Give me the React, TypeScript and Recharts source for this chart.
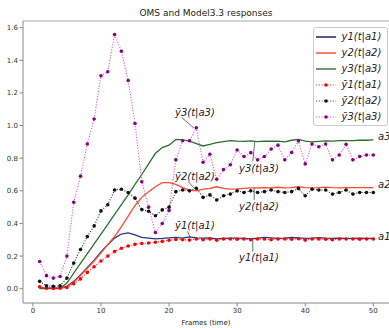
import React from 'react';
import { ComposedChart, Line, XAxis, YAxis, ReferenceLine, ReferenceDot, Legend } from 'recharts';

const frames = Array.from({ length: 50 }, (_, i) => i + 1);

const y1Model = [0.005, 0.003, 0.003, 0.005, 0.015, 0.045, 0.085, 0.13, 0.175, 0.225, 0.27, 0.31, 0.335, 0.342, 0.33, 0.315, 0.31, 0.305, 0.308, 0.312, 0.315, 0.31, 0.318, 0.312, 0.31, 0.312, 0.305, 0.308, 0.31, 0.31, 0.308, 0.306, 0.31, 0.315, 0.312, 0.308, 0.31, 0.314, 0.312, 0.308, 0.31, 0.313, 0.31, 0.308, 0.31, 0.309, 0.308, 0.31, 0.308, 0.308];
const y2Model = [0, 0, 0, 0, 0.012, 0.04, 0.08, 0.125, 0.17, 0.22, 0.27, 0.32, 0.38, 0.445, 0.51, 0.56, 0.595, 0.625, 0.65, 0.65, 0.64, 0.62, 0.605, 0.6, 0.61, 0.615, 0.625, 0.615, 0.61, 0.612, 0.615, 0.618, 0.618, 0.62, 0.618, 0.622, 0.618, 0.62, 0.625, 0.62, 0.618, 0.62, 0.623, 0.62, 0.618, 0.62, 0.62, 0.62, 0.62, 0.62];
const y3Model = [0.002, 0.002, 0.002, 0.002, 0.035, 0.095, 0.155, 0.215, 0.275, 0.335, 0.395, 0.455, 0.515, 0.575, 0.64, 0.7, 0.765, 0.83, 0.865, 0.88, 0.915, 0.912, 0.905, 0.89, 0.875, 0.885, 0.895, 0.902, 0.908, 0.905, 0.903, 0.906, 0.902, 0.905, 0.904, 0.905, 0.9, 0.91, 0.915, 0.905, 0.9, 0.903, 0.906, 0.905, 0.908, 0.908, 0.908, 0.91, 0.91, 0.912];
const y1Oms = [0.012, 0.003, 0.002, 0.003, 0.008, 0.03, 0.06, 0.1, 0.135, 0.17, 0.2, 0.228, 0.248, 0.262, 0.272, 0.277, 0.28, 0.285, 0.29, 0.297, 0.302, 0.3, 0.298, 0.305, 0.3, 0.305, 0.297, 0.305, 0.305, 0.303, 0.305, 0.3, 0.305, 0.305, 0.3, 0.305, 0.305, 0.303, 0.306, 0.298, 0.305, 0.305, 0.303, 0.3, 0.305, 0.305, 0.305, 0.303, 0.305, 0.305];
const y2Oms = [0.045, 0.018, 0.015, 0.018, 0.065, 0.157, 0.24, 0.32, 0.385, 0.477, 0.515, 0.605, 0.61, 0.59, 0.555, 0.485, 0.475, 0.447, 0.483, 0.5, 0.595, 0.605, 0.6, 0.616, 0.56, 0.575, 0.544, 0.57, 0.58, 0.6, 0.59, 0.6, 0.59, 0.595, 0.605, 0.595, 0.59, 0.595, 0.615, 0.57, 0.61, 0.605, 0.605, 0.58, 0.59, 0.605, 0.58, 0.59, 0.59, 0.59];
const y3Oms = [0.167, 0.08, 0.065, 0.075, 0.2, 0.53, 0.69, 0.887, 1.04, 1.305, 1.33, 1.558, 1.456, 1.276, 1.013, 0.656, 0.5, 0.345, 0.4, 0.48, 0.79, 0.907, 0.907, 0.987, 0.775, 0.824, 0.671, 0.73, 0.76, 0.85, 0.81, 0.834, 0.79, 0.81, 0.856, 0.88, 0.79, 0.835, 0.905, 0.765, 0.887, 0.87, 0.887, 0.79, 0.82, 0.885, 0.79, 0.81, 0.82, 0.82];

const xTicks = [0, 10, 20, 30, 40, 50];
const yTicks = [0, 0.2, 0.4, 0.6, 0.8, 1.0, 1.2, 1.4, 1.6];

const data = frames.map((t, i) => ({
  t,
  y1: y1Model[i],
  y2: y2Model[i],
  y3: y3Model[i],
  o1: y1Oms[i],
  o2: y2Oms[i],
  o3: y3Oms[i],
}));

// annotation text anchors and pointer segments (data coordinates)
const annotations = [
  { text: 'ȳ3(t|a3)', x: 23.8, y: 1.08, seg: [[21.85, 1.05], [23.65, 0.985]] },
  { text: 'ȳ2(t|a2)', x: 23.8, y: 0.69, seg: [[22.8, 0.657], [23.7, 0.617]] },
  { text: 'ȳ1(t|a1)', x: 23.8, y: 0.39, seg: [[22.7, 0.351], [23.1, 0.317]] },
  { text: 'y3(t|a3)', x: 33.2, y: 0.739, seg: [[32.6, 0.902], [32.3, 0.782]] },
  { text: 'y2(t|a2)', x: 33.2, y: 0.504, seg: [[32.5, 0.618], [32.5, 0.545]] },
  { text: 'y1(t|a1)', x: 33.2, y: 0.194, seg: [[32.3, 0.302], [32.3, 0.228]] },
];
const endLabels = [
  { text: 'a3', x: 50.7, y: 0.933 },
  { text: 'a2', x: 50.7, y: 0.637 },
  { text: 'a1', x: 50.7, y: 0.317 },
];

const FONT = '"DejaVu Sans", sans-serif';

const series = [
  { key: 'y1', name: 'y1(t|a1)', color: '#23388a', legendColor: '#1a2470', width: 1.3, dotted: false, dot: '' },
  { key: 'y2', name: 'y2(t|a2)', color: '#ff4a30', legendColor: '#ff7a72', width: 1.3, dotted: false, dot: '' },
  { key: 'y3', name: 'y3(t|a3)', color: '#2d6e2d', legendColor: '#3c7a3c', width: 1.3, dotted: false, dot: '' },
  { key: 'o1', name: 'ȳ1(t|a1)', color: '#ff2020', legendColor: '#ff4040', width: 1.1, dotted: true, dot: '#ff0000' },
  { key: 'o2', name: 'ȳ2(t|a2)', color: '#333333', legendColor: '#555555', width: 1.1, dotted: true, dot: '#111111' },
  { key: 'o3', name: 'ȳ3(t|a3)', color: '#cc55cc', legendColor: '#cc66cc', width: 1.1, dotted: true, dot: '#880088' },
];

const LegendBox = () => (
  <div
    style={{
      position: 'relative',
      width: 75,
      height: 99,
      boxSizing: 'border-box',
      border: '1px solid #cccccc',
      borderRadius: 3,
      background: 'rgba(255,255,255,0.85)',
      fontFamily: FONT,
    }}
  >
    {series.map((s, i) => (
      <div key={s.key} style={{ position: 'absolute', left: 0, top: 0.5 + i * 16, height: 16, width: 75 }}>
        <svg width={24} height={16} style={{ position: 'absolute', left: 1, top: 0 }}>
          <line
            x1={1}
            x2={21}
            y1={8}
            y2={8}
            stroke={s.legendColor}
            strokeWidth={s.dotted ? 1.1 : i === 1 ? 2 : 1.5}
            strokeDasharray={s.dotted ? '1.2 1.6' : undefined}
          />
          {s.dotted && <circle cx={11} cy={8} r={1.8} fill={s.dot} />}
        </svg>
        <span
          style={{
            position: 'absolute',
            left: 28,
            top: 1,
            fontSize: 10,
            lineHeight: '14px',
            fontStyle: 'italic',
            color: '#222',
            whiteSpace: 'nowrap',
          }}
        >
          {s.name}
        </span>
      </div>
    ))}
  </div>
);

const makeLabel = (text: string, anchor: string) => (props: any) => {
  const vb = props.viewBox || {};
  return (
    <text
      x={vb.x}
      y={vb.y}
      textAnchor={anchor}
      dominantBaseline="central"
      fontSize={10}
      fontStyle="italic"
      fontFamily={FONT}
      fill="#222"
    >
      {text}
    </text>
  );
};

export default function App() {
  return (
    <div style={{ position: 'absolute', left: 0, top: 0, width: 389, height: 328, overflow: 'hidden', background: '#fff' }}>
      <ComposedChart width={391} height={328} data={data} margin={{ top: 21, right: 1, bottom: 0, left: 0 }}>
        <text x={206} y={16} textAnchor="middle" fontSize={9} fontFamily={FONT} fill="#222">
          OMS and Model3.3 responses
        </text>
        <text x={206} y={324.5} textAnchor="middle" fontSize={7} fontFamily={FONT} fill="#222">
          Frames (time)
        </text>
        <XAxis
          dataKey="t"
          type="number"
          domain={[-1.45, 52.45]}
          ticks={xTicks}
          height={25}
          allowDataOverflow
          stroke="#888"
          tickSize={3.5}
          tickMargin={1.5}
          tick={{ fontSize: 7, fill: '#333', fontFamily: FONT }}
        />
        <YAxis
          type="number"
          domain={[-0.0876, 1.641]}
          ticks={yTicks}
          width={23}
          allowDataOverflow
          stroke="#888"
          tickSize={3.5}
          tickMargin={1.5}
          tickFormatter={(v: number) => v.toFixed(1)}
          tick={{ fontSize: 7, fill: '#333', fontFamily: FONT }}
        />
        <ReferenceLine y={1.641} stroke="#aaa" strokeWidth={1} />
        {series.map((s) => (
          <Line
            key={s.key}
            dataKey={s.key}
            type="linear"
            stroke={s.color}
            strokeWidth={s.width}
            strokeDasharray={s.dotted ? '1.1 1.6' : undefined}
            dot={s.dotted ? { r: 1.8, fill: s.dot, stroke: 'none' } : false}
            activeDot={false}
            isAnimationActive={false}
          />
        ))}
        {annotations.map((a) => (
          <ReferenceLine
            key={'s' + a.text}
            segment={[
              { x: a.seg[0][0], y: a.seg[0][1] },
              { x: a.seg[1][0], y: a.seg[1][1] },
            ]}
            stroke="#444"
            strokeWidth={0.8}
          />
        ))}
        {annotations.map((a) => (
          <ReferenceDot
            key={'t' + a.text}
            x={a.x}
            y={a.y}
            r={0}
            fill="none"
            stroke="none"
            label={{ content: makeLabel(a.text, 'middle') }}
          />
        ))}
        {endLabels.map((a) => (
          <ReferenceDot
            key={'e' + a.text}
            x={a.x}
            y={a.y}
            r={0}
            fill="none"
            stroke="none"
            label={{ content: makeLabel(a.text, 'start') }}
          />
        ))}
        <Legend
          layout="vertical"
          align="center"
          verticalAlign="middle"
          wrapperStyle={{ left: 312.5, top: 27, width: 75, height: 99 }}
          content={() => <LegendBox />}
        />
      </ComposedChart>
    </div>
  );
}
